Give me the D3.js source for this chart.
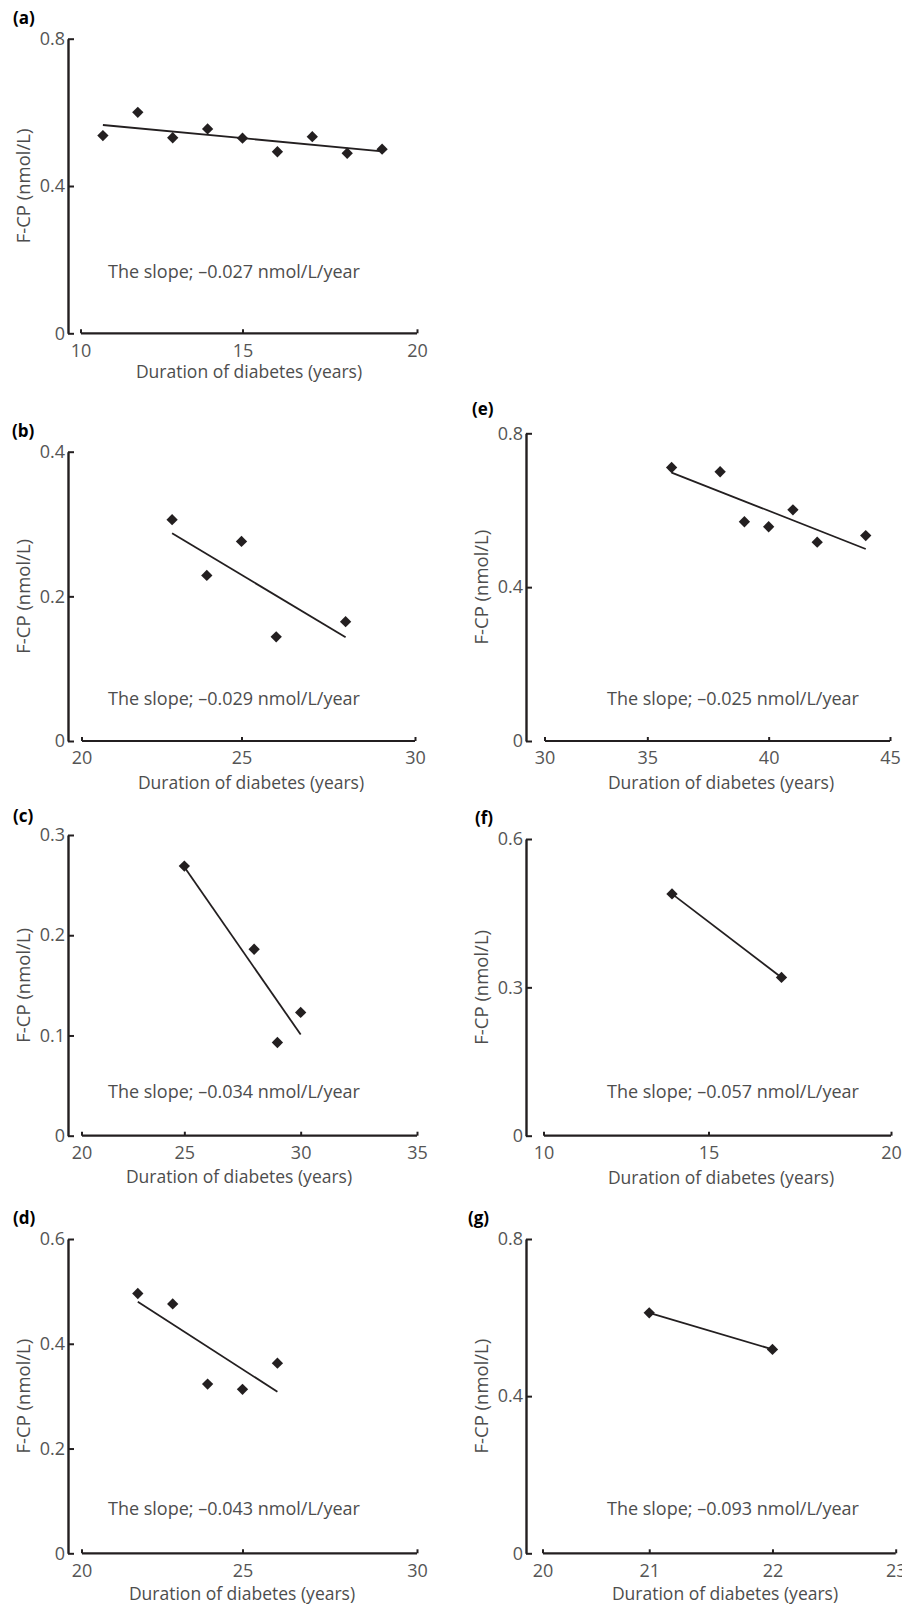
<!DOCTYPE html>
<html>
<head>
<meta charset="utf-8">
<script src="https://cdn.jsdelivr.net/npm/d3@7"></script>
<style>
  body { margin: 0; background: #fff; }
  svg text { font-family: "Open Sans", "Noto Sans", sans-serif; }
  .tick text { fill: #555; font-size: 18px; }
  .slope { fill: #4d4d4d; font-size: 18px; }
  .xtitle { fill: #4d4d4d; font-size: 17.5px; }
  .ytitle { fill: #4d4d4d; font-size: 18.5px; }
  .tag { fill: #000; font-size: 17px; font-weight: bold; }
</style>
</head>
<body>
<div id="chart"></div>
<script>
// ---- data ----
var panelNames = ["a", "b", "c", "d", "e", "f", "g"];

var durationA = [11, 12, 13, 14, 15, 16, 17, 18, 19];
var fcpA = [0.537, 0.600, 0.531, 0.555, 0.530, 0.493, 0.534, 0.489, 0.500];
var durationB = [23, 24, 25, 26, 28];
var fcpB = [0.306, 0.229, 0.276, 0.144, 0.165];
var durationC = [25, 28, 29, 30];
var fcpC = [0.269, 0.186, 0.093, 0.123];
var durationD = [22, 23, 24, 25, 26];
var fcpD = [0.496, 0.476, 0.323, 0.313, 0.363];
var durationE = [36, 38, 39, 40, 41, 42, 44];
var fcpE = [0.711, 0.700, 0.570, 0.557, 0.601, 0.517, 0.534];
var durationF = [14, 17];
var fcpF = [0.489, 0.320];
var durationG = [21, 22];
var fcpG = [0.612, 0.519];

var slopeLabels = ["–0.027", "–0.029", "–0.034", "–0.043", "–0.025", "–0.057", "–0.093"];

var xTicksA = [10, 15, 20];
var xTicksB = [20, 25, 30];
var xTicksC = [20, 25, 30, 35];
var xTicksD = [20, 25, 30];
var xTicksE = [30, 35, 40, 45];
var xTicksF = [10, 15, 20];
var xTicksG = [20, 21, 22, 23];

var yTicksA = [0, 0.4, 0.8];
var yTicksB = [0, 0.2, 0.4];
var yTicksC = [0, 0.1, 0.2, 0.3];
var yTicksD = [0, 0.2, 0.4, 0.6];
var yTicksE = [0, 0.4, 0.8];
var yTicksF = [0, 0.3, 0.6];
var yTicksG = [0, 0.4, 0.8];

var xLabel = "Duration of diabetes (years)";
var yLabel = "F-CP (nmol/L)";

// ---- layout of each panel on the page ----
var layout = {
    a: { x0: 68, x1: 417, yTop: 38.7, yBot: 333.3, gap: 13, tagX: 13, tagY: 24, slopeX: 108, slopeY: 278, titleX: 249, titleY: 378 },
    b: { x0: 68, x1: 415, yTop: 451.7, yBot: 741, gap: 14, tagX: 12, tagY: 437, slopeX: 108, slopeY: 705, titleX: 251, titleY: 789 },
    c: { x0: 68, x1: 417, yTop: 835, yBot: 1135.7, gap: 14, tagX: 13, tagY: 822, slopeX: 108, slopeY: 1098, titleX: 239, titleY: 1183 },
    d: { x0: 68, x1: 417, yTop: 1239, yBot: 1553.3, gap: 14, tagX: 13, tagY: 1224, slopeX: 108, slopeY: 1515, titleX: 242, titleY: 1600 },
    e: { x0: 526, x1: 890, yTop: 433.3, yBot: 741, gap: 19, tagX: 472, tagY: 415, slopeX: 607, slopeY: 705, titleX: 721, titleY: 789 },
    f: { x0: 526, x1: 891, yTop: 839, yBot: 1135.7, gap: 18, tagX: 475, tagY: 824, slopeX: 607, slopeY: 1098, titleX: 721, titleY: 1184 },
    g: { x0: 526, x1: 895.7, yTop: 1239, yBot: 1553.3, gap: 17, tagX: 468, tagY: 1224, slopeX: 607, slopeY: 1515, titleX: 725, titleY: 1600 }
};

var panels = [
    { id: "a", xs: durationA, ys: fcpA, xt: xTicksA, yt: yTicksA },
    { id: "b", xs: durationB, ys: fcpB, xt: xTicksB, yt: yTicksB },
    { id: "c", xs: durationC, ys: fcpC, xt: xTicksC, yt: yTicksC },
    { id: "d", xs: durationD, ys: fcpD, xt: xTicksD, yt: yTicksD },
    { id: "e", xs: durationE, ys: fcpE, xt: xTicksE, yt: yTicksE },
    { id: "f", xs: durationF, ys: fcpF, xt: xTicksF, yt: yTicksF },
    { id: "g", xs: durationG, ys: fcpG, xt: xTicksG, yt: yTicksG }
];

var ink = "#231f20";

var svg = d3.select("#chart").append("svg")
    .attr("width", 902)
    .attr("height", 1608);

// least squares fit, drawn between the first and last duration
var fit = function (xs, ys) {
    var mx = d3.mean(xs), my = d3.mean(ys);
    var sxy = d3.sum(xs, function (x, i) { return (x - mx) * (ys[i] - my); });
    var sxx = d3.sum(xs, function (x) { return (x - mx) * (x - mx); });
    var b = sxy / sxx;
    return function (x) { return my + b * (x - mx); };
};

panels.forEach(function (p, k) {
    var L = layout[p.id];
    var g = svg.append("g");

    var x = d3.scaleLinear().domain(d3.extent(p.xt)).range([L.x0, L.x1]);
    var y = d3.scaleLinear().domain(d3.extent(p.yt)).range([L.yBot, L.yTop]);

    // y axis, ticks pointing in
    var ya = g.append("g")
        .attr("transform", "translate(" + L.x0 + ",0)")
        .call(d3.axisLeft(y).tickValues(p.yt).tickSize(-6).tickSizeOuter(0).tickPadding(3)
            .tickFormat(function (d) { return d === 0 ? "0" : d3.format(".1f")(d); }));
    ya.select(".domain").attr("stroke", ink).attr("stroke-width", 2.4);
    ya.selectAll(".tick line").attr("stroke", ink).attr("stroke-width", 2);

    // x axis, detached from the origin by a small gap
    var xa = g.append("g")
        .attr("transform", "translate(0," + L.yBot + ")")
        .call(d3.axisBottom(x).tickValues(p.xt).tickSize(-4).tickSizeOuter(0).tickPadding(8)
            .tickFormat(d3.format("d")));
    var xStart = L.x0 + L.gap;
    xa.select(".tick").attr("transform", "translate(" + xStart + ",0)");
    xa.select(".domain").attr("d", "M" + xStart + ",0H" + L.x1)
        .attr("stroke", ink).attr("stroke-width", 2.2);
    xa.selectAll(".tick line").attr("stroke", ink).attr("stroke-width", 2);
    xa.selectAll(".tick text").attr("dy", "0.85em");

    // regression line
    var f = fit(p.xs, p.ys);
    var ext = d3.extent(p.xs);
    g.append("path")
        .datum(ext)
        .attr("fill", "none")
        .attr("stroke", ink)
        .attr("stroke-width", 1.8)
        .attr("d", d3.line().x(function (d) { return x(d); }).y(function (d) { return y(f(d)); }));

    // diamonds
    g.selectAll(".pt").data(p.xs).enter().append("path")
        .attr("class", "pt")
        .attr("fill", ink)
        .attr("transform", function (d, i) { return "translate(" + x(d) + "," + y(p.ys[i]) + ") rotate(45)"; })
        .attr("d", d3.symbol().type(d3.symbolSquare).size(64));

    // texts
    g.append("text").attr("class", "tag")
        .attr("x", L.tagX).attr("y", L.tagY)
        .text("(" + panelNames[k] + ")");
    g.append("text").attr("class", "slope")
        .attr("x", L.slopeX).attr("y", L.slopeY)
        .text("The slope; " + slopeLabels[k] + " nmol/L/year");
    g.append("text").attr("class", "xtitle")
        .attr("x", L.titleX).attr("y", L.titleY)
        .attr("text-anchor", "middle")
        .text(xLabel);
    g.append("text").attr("class", "ytitle")
        .attr("transform", "translate(" + (L.x0 - 38) + "," + ((L.yTop + L.yBot) / 2) + ") rotate(-90)")
        .attr("text-anchor", "middle")
        .text(yLabel);
});
</script>
</body>
</html>
